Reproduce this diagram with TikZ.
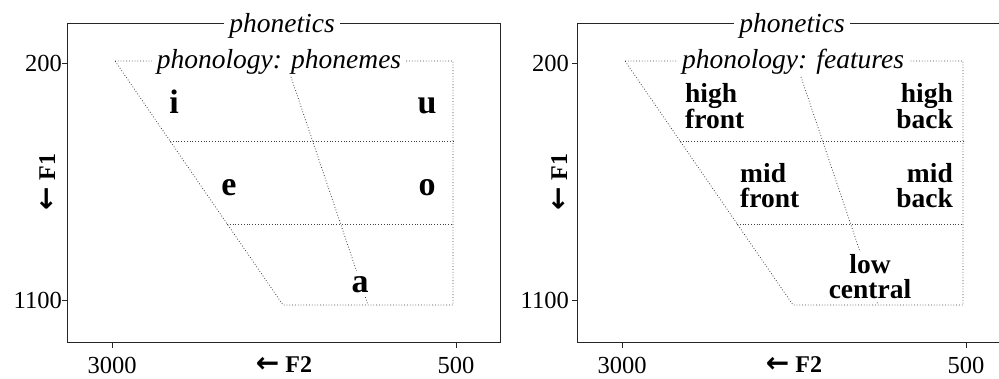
\documentclass[tikz,border=0pt]{standalone}
\usepackage{fontspec}
\setmainfont{Liberation Serif}
\newfontfamily\arrowfont{DejaVu Sans}
\usetikzlibrary{positioning}
\tikzset{
  frameline/.style={draw=black!85, line width=1pt},
  grid/.style={draw=black!75, line width=0.8pt, dotted},
  phon/.style={fill=white, inner ysep=1pt, inner xsep=5pt, font=\fontsize{27.5}{30}\selectfont\itshape},
  vowel/.style={fill=white, inner sep=1pt, font=\fontsize{34}{36}\selectfont\bfseries},
  feat/.style={fill=white, inner sep=1pt, font=\fontsize{27.5}{25}\selectfont\bfseries},
  ticklab/.style={inner sep=0pt, font=\fontsize{24.5}{26}\selectfont},
  axislab/.style={inner sep=0pt, font=\fontsize{24}{26}\selectfont\bfseries}
}
\newcommand{\larr}{{\arrowfont\fontsize{28}{30}\selectfont ←}}
\begin{document}
\begin{tikzpicture}[x=1pt,y=-1pt]
  \clip (0,0) rectangle (999,378);

  \draw[frameline] (67,23) rectangle (500,342);
  \draw[frameline] (62,63) -- (67,63);
  \draw[frameline] (62,300) -- (67,300);
  \draw[frameline] (112,342) -- (112,348);
  \draw[frameline] (456,342) -- (456,348);
  \node[ticklab, anchor=east] (ya) at (62,63) {200};
  \node[ticklab, anchor=east] (yb) at (62,300) {1100};
  \node[ticklab, anchor=base] (xa) at (112,373) {3000};
  \node[ticklab, anchor=base] (xb) at (456,373) {500};
  \node[axislab, anchor=base] (ftwo) at (284,372) {\larr{} F2};
  \node[axislab, anchor=base, rotate=90] (fone) at (55,182) {\larr{} F1};

  \draw[grid] (115,61) -- (453,61) -- (453,305) -- (283,305) -- cycle;
  \draw[grid] (170,141) -- (453,141);
  \draw[grid] (227,224) -- (453,224);
  \draw[grid] (285.6,61) -- (368,305);

  \node[phon, anchor=base] (phonetics) at (282,32) {phonetics};
  \node[phon, anchor=base] (phonemes) at (279,68.5) {phonology: phonemes};
  \node[vowel, anchor=base] (i) at (174,113) {i};
  \node[vowel, anchor=base] (u) at (427,113) {u};
  \node[vowel, anchor=base] (e) at (229,195) {e};
  \node[vowel, anchor=base] (o) at (427,195) {o};
  \node[vowel, anchor=base, inner ysep=5pt] (a) at (360,292) {a};

  \begin{scope}[xshift=510pt]
    \draw[frameline] (67,23) rectangle (500,342);
    \draw[frameline] (62,63) -- (67,63);
    \draw[frameline] (62,300) -- (67,300);
    \draw[frameline] (112,342) -- (112,348);
    \draw[frameline] (456,342) -- (456,348);
    \node[ticklab, anchor=east] (yc) at (59,63) {200};
    \node[ticklab, anchor=east] (yd) at (59,300) {1100};
    \node[ticklab, anchor=base] (xc) at (112,373) {3000};
    \node[ticklab, anchor=base] (xd) at (456,373) {500};
    \node[axislab, anchor=base] (ftwob) at (284,372) {\larr{} F2};
    \node[axislab, anchor=base, rotate=90] (foneb) at (57,182) {\larr{} F1};

    \draw[grid] (115,61) -- (453,61) -- (453,305) -- (283,305) -- cycle;
    \draw[grid] (170,141) -- (453,141);
    \draw[grid] (227,224) -- (453,224);
    \draw[grid] (285.6,61) -- (368,305);

    \node[phon, anchor=base] (phoneticsb) at (282,32) {phonetics};
    \node[phon, anchor=base] (features) at (283,68.5) {phonology: features};
    \node[feat, anchor=west, align=left] (hf) at (174,106) {high\\front};
    \node[feat, anchor=east, align=right] (hb) at (444,106) {high\\back};
    \node[feat, anchor=west, align=left] (mf) at (229,186) {mid\\front};
    \node[feat, anchor=east, align=right] (mb) at (444,186) {mid\\back};
    \node[feat, align=center, inner ysep=3pt] (lc) at (360,277) {low\\central};
  \end{scope}
\end{tikzpicture}
\end{document}
